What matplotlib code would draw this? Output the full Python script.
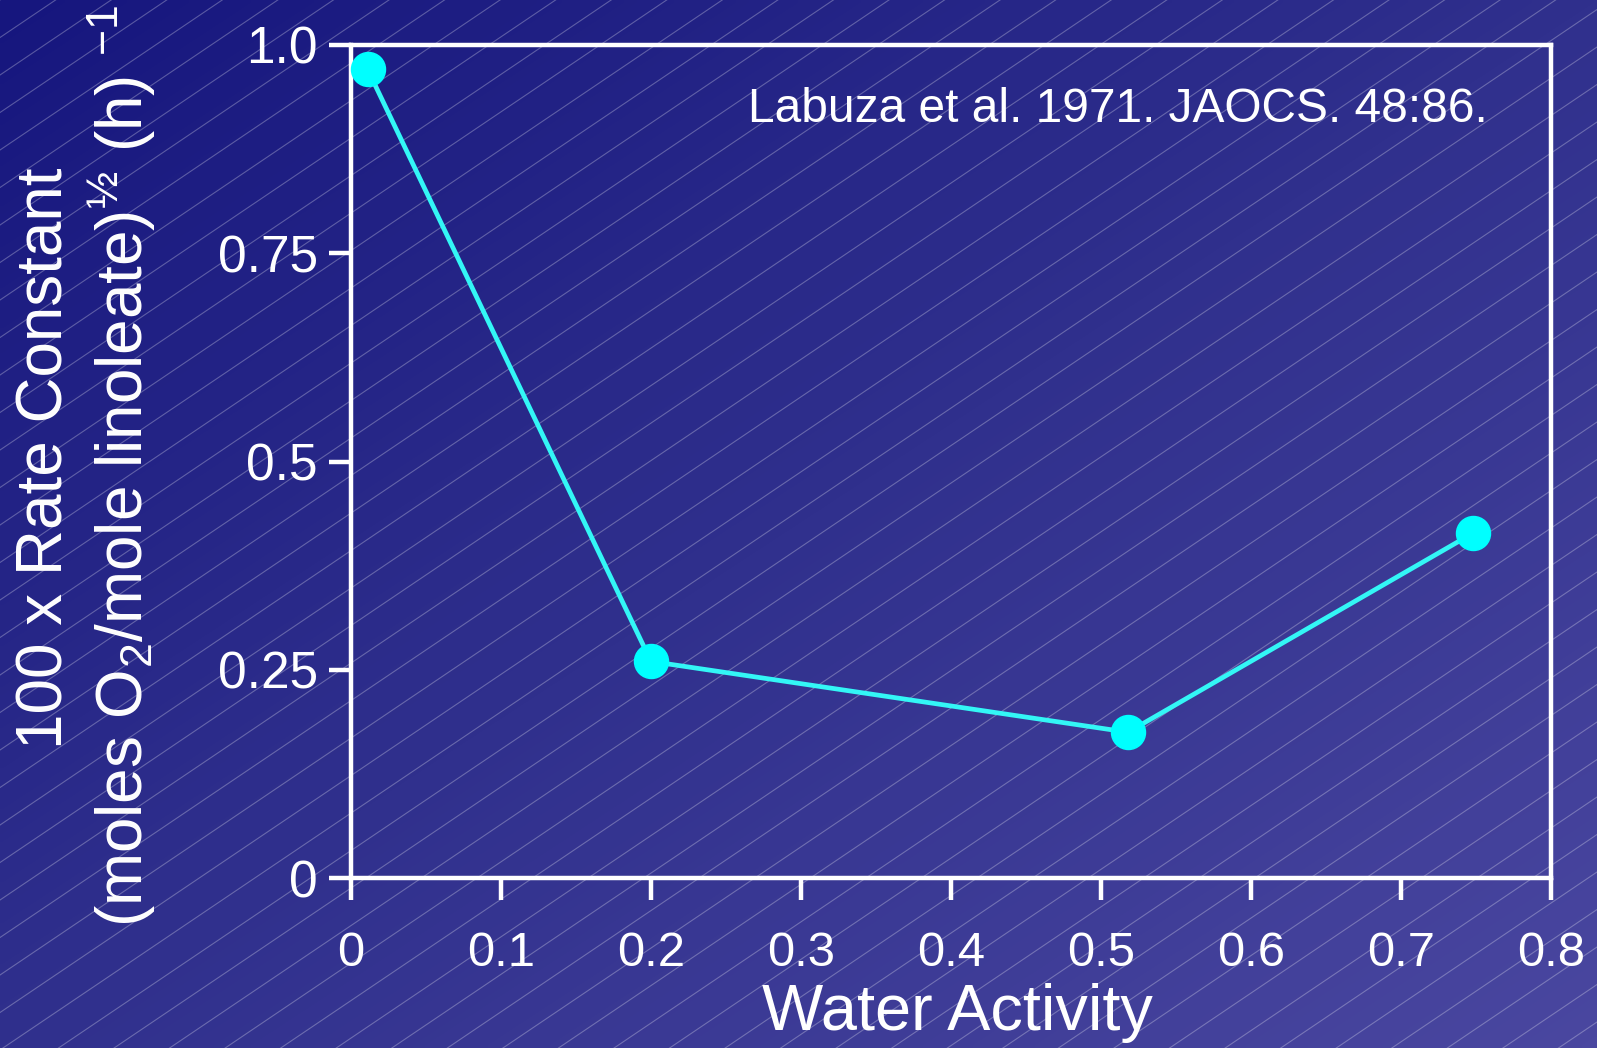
import numpy as np
import matplotlib
matplotlib.use("Agg")
import matplotlib.pyplot as plt
from matplotlib import font_manager
from matplotlib.colors import LinearSegmentedColormap

# ---- data ----
water_activity = [0.011, 0.200, 0.518, 0.748]
rate_constant = [0.971, 0.260, 0.175, 0.414]
x_ticks = [0, 0.1, 0.2, 0.3, 0.4, 0.5, 0.6, 0.7, 0.8]
x_tick_labels = ["0", "0.1", "0.2", "0.3", "0.4", "0.5", "0.6", "0.7", "0.8"]
y_ticks = [0, 0.25, 0.5, 0.75, 1.0]
y_tick_labels = ["0", "0.25", "0.5", "0.75", "1.0"]
annotation = "Labuza et al. 1971. JAOCS. 48:86."
x_label = "Water Activity"
y_label_1 = "100 x Rate Constant"
y_label_2 = r"(moles O$\mathregular{_2}$/mole linoleate)$\mathregular{^{½}}$ (h) $\mathregular{^{-1}}$"

names = {f.name for f in font_manager.fontManager.ttflist}
if "Liberation Sans Narrow" in names:
    NARROW = ["Liberation Sans Narrow", "DejaVu Sans"]
    k = 1.0
else:
    NARROW = ["Liberation Sans", "DejaVu Sans"]
    k = 0.82
REG = ["Liberation Sans", "DejaVu Sans"]

W, H = 1597, 1048
fig = plt.figure(figsize=(W / 100, H / 100), dpi=100)

# ---- background gradient with diagonal hairlines ----
bg = fig.add_axes([0, 0, 1, 1], zorder=0)
bg.set_axis_off()
yy, xx = np.mgrid[0:1:200j, 0:1:300j]
t = (xx + yy) / 2.0
cmap = LinearSegmentedColormap.from_list("bg", ["#16167e", "#30308d", "#4a47a0"])
bg.imshow(t, cmap=cmap, extent=[0, W, H, 0], aspect="auto", interpolation="bilinear")
slope = 0.675
spacing = 37.5
for c in np.arange(0, H + slope * W + spacing, spacing):
    xs = np.array([0, W])
    ys = c - slope * xs  # y measured from top, line rises to the right
    bg.plot(xs, ys, color="white", lw=0.8, alpha=0.28)
bg.set_xlim(0, W)
bg.set_ylim(H, 0)

# ---- main axes ----
ax = fig.add_axes([351 / W, 1 - 878 / H, 1200 / W, 833 / H], zorder=1)
ax.set_facecolor("none")
ax.plot(water_activity, rate_constant, color="#33f6f6", lw=3.4, zorder=3,
        solid_capstyle="butt")
ax.plot(water_activity, rate_constant, ls="none", marker="o", ms=24.5,
        color="#00ffff", zorder=4, clip_on=False)

ax.set_xlim(0, 0.8)
ax.set_ylim(0, 1.0)
ax.set_xticks(x_ticks)
ax.set_xticklabels(x_tick_labels, fontfamily=NARROW, fontsize=43 * k, color="white")
ax.set_yticks(y_ticks)
ax.set_yticklabels(y_tick_labels, fontfamily=REG, fontsize=37, color="white")
for s in ax.spines.values():
    s.set_color("white")
    s.set_linewidth(3.2)
ax.tick_params(axis="x", direction="out", length=16, width=3.2, color="white", pad=22)
ax.tick_params(axis="y", direction="out", length=16, width=3.2, color="white", pad=8)

ax.text(0.947, 0.923, annotation, transform=ax.transAxes, ha="right", va="center",
        fontfamily=REG, fontsize=34.5, color="white")

fig.text(957 / W, 1 - 1013 / H, x_label, ha="center", va="center",
         fontfamily=NARROW, fontsize=57 * k, color="white")
fig.text(46 / W, 1 - 458 / H, y_label_1, ha="center", va="center", rotation=90,
         fontfamily=NARROW, fontsize=56 * k, color="white")
fig.text(122 / W, 1 - 466 / H, y_label_2, ha="center", va="center", rotation=90,
         fontfamily=NARROW, fontsize=56 * k, color="white")

fig.savefig("out.png", dpi=100)
